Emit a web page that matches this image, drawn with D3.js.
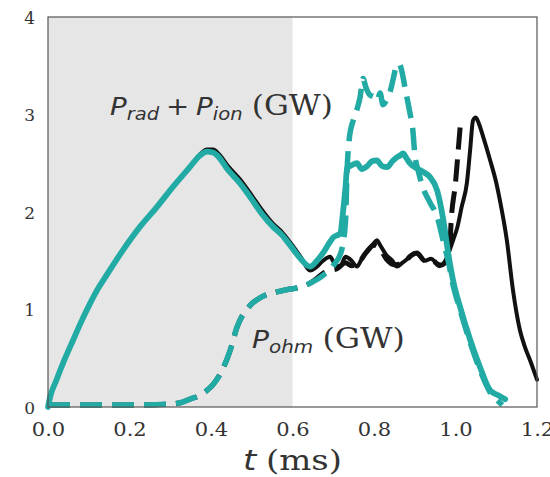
<!DOCTYPE html>
<html>
<head>
<meta charset="utf-8">
<script src="https://cdn.jsdelivr.net/npm/d3@7"></script>
<style>
  body { margin: 0; background: #fff; }
  svg { display: block; }
</style>
</head>
<body>
<div id="display"></div>
<script>
// values: t in ms, power in GW

// P_rad + P_ion, shared rise (both runs sit on top of each other here)
const riseT = [0, 0.005, 0.02, 0.04, 0.062, 0.08, 0.103, 0.125, 0.145, 0.184, 0.226, 0.267, 0.307, 0.348, 0.373, 0.39, 0.405, 0.42, 0.44, 0.47, 0.5, 0.525, 0.552, 0.575, 0.594, 0.62];
const riseSim = [0, 0.10, 0.27, 0.48, 0.69, 0.86, 1.06, 1.23, 1.36, 1.61, 1.85, 2.05, 2.26, 2.46, 2.58, 2.62, 2.61, 2.56, 2.44, 2.30, 2.13, 1.98, 1.85, 1.76, 1.66, 1.52];
const riseExp = [0, 0.10, 0.27, 0.48, 0.69, 0.86, 1.06, 1.23, 1.36, 1.61, 1.85, 2.05, 2.26, 2.46, 2.59, 2.64, 2.64, 2.59, 2.48, 2.34, 2.17, 2.02, 1.88, 1.79, 1.69, 1.54];

// black solid after the shaded window
const expTailT = [0.643, 0.66, 0.675, 0.692, 0.705, 0.717, 0.73, 0.745, 0.758, 0.77, 0.785, 0.8, 0.807, 0.815, 0.83, 0.845, 0.856, 0.87, 0.885, 0.9, 0.91, 0.925, 0.94, 0.955, 0.965, 0.975, 0.985, 0.994, 1.005, 1.015, 1.028, 1.036, 1.043, 1.05, 1.058, 1.068, 1.085, 1.1, 1.109, 1.126, 1.141, 1.158, 1.17, 1.183, 1.2];
const expTailV = [1.40, 1.44, 1.50, 1.54, 1.46, 1.44, 1.54, 1.50, 1.44, 1.52, 1.61, 1.68, 1.71, 1.66, 1.56, 1.50, 1.44, 1.48, 1.53, 1.58, 1.56, 1.50, 1.52, 1.47, 1.46, 1.50, 1.60, 1.71, 1.85, 2.05, 2.30, 2.64, 2.94, 2.97, 2.90, 2.77, 2.53, 2.30, 2.12, 1.71, 1.20, 0.79, 0.62, 0.48, 0.28];

// teal solid after the shaded window
const simTailT = [0.643, 0.66, 0.675, 0.69, 0.70, 0.717, 0.724, 0.73, 0.734, 0.745, 0.758, 0.77, 0.783, 0.795, 0.807, 0.82, 0.832, 0.845, 0.856, 0.864, 0.871, 0.88, 0.888, 0.9, 0.913, 0.925, 0.937, 0.955, 0.97, 0.982, 0.994, 1.011, 1.036, 1.06, 1.085, 1.105, 1.122];
const simTailV = [1.44, 1.50, 1.58, 1.68, 1.74, 1.78, 2.00, 2.25, 2.45, 2.48, 2.50, 2.44, 2.47, 2.52, 2.53, 2.47, 2.46, 2.52, 2.56, 2.58, 2.60, 2.55, 2.50, 2.46, 2.43, 2.40, 2.36, 2.22, 1.92, 1.58, 1.30, 1.03, 0.69, 0.41, 0.17, 0.12, 0.08];

// P_ohm, shared part
const ohmT = [0, 0.05, 0.1, 0.2, 0.3, 0.33, 0.348, 0.373, 0.39, 0.405, 0.42, 0.43, 0.447, 0.464, 0.476, 0.488, 0.5, 0.513, 0.53, 0.562, 0.594, 0.611, 0.643];
const ohmV = [0.02, 0.02, 0.02, 0.02, 0.03, 0.05, 0.08, 0.12, 0.17, 0.23, 0.32, 0.40, 0.58, 0.82, 0.93, 1.00, 1.06, 1.10, 1.14, 1.18, 1.21, 1.22, 1.27];

// black dashed tail
const ohmExpT = [0.66, 0.675, 0.69, 0.71, 0.73, 0.745, 0.76, 0.78, 0.8, 0.815, 0.83, 0.85, 0.87, 0.89, 0.905, 0.925, 0.945, 0.96, 0.975, 0.985, 0.99, 1.0, 1.006, 1.012];
const ohmExpV = [1.32, 1.37, 1.40, 1.42, 1.48, 1.45, 1.47, 1.58, 1.66, 1.62, 1.52, 1.46, 1.47, 1.55, 1.58, 1.50, 1.50, 1.45, 1.48, 1.60, 1.95, 2.30, 2.60, 2.90];

// teal dashed tail
const ohmSimT = [0.675, 0.7, 0.72, 0.73, 0.734, 0.739, 0.749, 0.758, 0.766, 0.773, 0.78, 0.79, 0.8, 0.807, 0.815, 0.822, 0.83, 0.84, 0.848, 0.855, 0.862, 0.868, 0.875, 0.882, 0.888, 0.895, 0.9, 0.91, 0.92, 0.937, 0.955, 0.97, 0.982, 0.994, 1.011, 1.036, 1.06, 1.085, 1.1, 1.115];
const ohmSimV = [1.35, 1.45, 1.60, 1.90, 2.43, 2.74, 2.94, 3.05, 3.18, 3.37, 3.28, 3.20, 3.18, 3.14, 3.22, 3.10, 3.14, 3.24, 3.38, 3.50, 3.52, 3.45, 3.30, 3.15, 3.02, 2.85, 2.60, 2.40, 2.25, 2.10, 1.95, 1.70, 1.50, 1.25, 1.00, 0.66, 0.38, 0.15, 0.08, 0.02];

const xTicks = [0, 0.2, 0.4, 0.6, 0.8, 1.0, 1.2];
const yTicks = [0, 1, 2, 3, 4];
const shadeRange = [0, 0.6];

const teal = '#22aaa5';

// dimensions and margins of the graph
let margin = {top: 17, right: 13, bottom: 70, left: 48};
let width = 550 - margin.left - margin.right;
let height = 477 - margin.top - margin.bottom;

let svg = d3.select('#display')
    .append('svg')
        .attr('width', 550)
        .attr('height', 477);

let g = svg.append('g')
    .attr('transform', 'translate(' + margin.left + ',' + margin.top + ')');

let x = d3.scaleLinear().domain([0, 1.2]).range([0, width]);
let y = d3.scaleLinear().domain([0, 4]).range([height, 0]);

// grey window
g.append('rect')
    .attr('x', x(shadeRange[0]))
    .attr('y', 0)
    .attr('width', x(shadeRange[1]) - x(shadeRange[0]))
    .attr('height', height)
    .style('fill', '#e6e6e6');

// axes, labels only
let xAxis = g.append('g')
    .attr('transform', 'translate(0,' + height + ')')
    .call(d3.axisBottom(x).tickValues(xTicks).tickSize(0).tickPadding(0).tickFormat(d3.format('.1f')));
let yAxis = g.append('g')
    .call(d3.axisLeft(y).tickValues(yTicks).tickSize(0).tickPadding(0).tickFormat(d3.format('d')));
g.selectAll('.domain').remove();

xAxis.selectAll('text')
    .attr('y', 0).attr('dy', 0)
    .attr('transform', 'translate(0,29) scale(1.17,1)')
    .style('font-family', 'DejaVu Serif')
    .style('font-size', '18px')
    .style('fill', '#333');
yAxis.selectAll('text')
    .attr('x', 0).attr('dy', '0.36em')
    .attr('transform', 'translate(-13,0)')
    .style('font-family', 'DejaVu Serif')
    .style('font-size', '17px')
    .style('fill', '#333');

// zip helper
const pts = (ts, vs) => ts.map((t, i) => [t, vs[i]]);

let line = d3.line()
    .x(d => x(d[0]))
    .y(d => y(d[1]))
    .curve(d3.curveMonotoneX);

let expSolid = pts(riseT.concat(expTailT), riseExp.concat(expTailV));
let simSolid = pts(riseT.concat(simTailT), riseSim.concat(simTailV));
let expDash = pts(ohmT.concat(ohmExpT), ohmV.concat(ohmExpV));
let simDash = pts(ohmT.concat(ohmSimT), ohmV.concat(ohmSimV));

g.append('path').datum(expDash)
    .attr('d', line)
    .style('fill', 'none').style('stroke', '#111').style('stroke-width', 5)
    .style('stroke-dasharray', '22,10');
g.append('path').datum(expSolid)
    .attr('d', line)
    .style('fill', 'none').style('stroke', '#111').style('stroke-width', 4)
    .style('stroke-linejoin', 'round').style('stroke-linecap', 'round');
g.append('path').datum(simDash)
    .attr('d', line)
    .style('fill', 'none').style('stroke', teal).style('stroke-width', 5.5)
    .style('stroke-dasharray', '22,10');
g.append('path').datum(simSolid)
    .attr('d', line)
    .style('fill', 'none').style('stroke', teal).style('stroke-width', 5.8)
    .style('stroke-linejoin', 'round').style('stroke-linecap', 'round');

// frame
g.append('rect')
    .attr('width', width).attr('height', height)
    .style('fill', 'none').style('stroke', '#555').style('stroke-width', 1.2);

// mathtext-like labels, stretched to the width they have in the figure
function mathLabel(parts, left, base, targetW) {
    let t = svg.append('text').attr('x', 0).attr('y', 0).style('fill', '#333');
    parts.forEach(p => {
        t.append('tspan')
            .attr('dy', p.dy || 0)
            .attr('dx', p.dx || 0)
            .style('font-family', p.serif ? 'DejaVu Serif' : 'DejaVu Sans')
            .style('font-style', p.it ? 'italic' : 'normal')
            .style('font-size', p.size + 'px')
            .text(p.s);
    });
    let w = t.node().getBBox().width;
    t.attr('transform', 'translate(' + left + ',' + base + ') scale(' + (targetW / w) + ',1)');
}

mathLabel([
    {s: 'P', it: true, size: 24},
    {s: 'rad', it: true, size: 17, dy: 5},
    {s: '+', size: 24, dy: -5, dx: 6},
    {s: 'P', it: true, size: 24, dx: 6},
    {s: 'ion', it: true, size: 17, dy: 5},
    {s: '(GW)', serif: true, size: 27, dy: -5, dx: 8}
], 110, 115, 223);

mathLabel([
    {s: 'P', it: true, size: 24},
    {s: 'ohm', it: true, size: 17, dy: 5},
    {s: '(GW)', serif: true, size: 27, dy: -5, dx: 8}
], 252, 348, 153);

mathLabel([
    {s: 't', it: true, size: 28},
    {s: '(ms)', serif: true, size: 28, dx: 8}
], 243, 470, 99);
</script>
</body>
</html>
